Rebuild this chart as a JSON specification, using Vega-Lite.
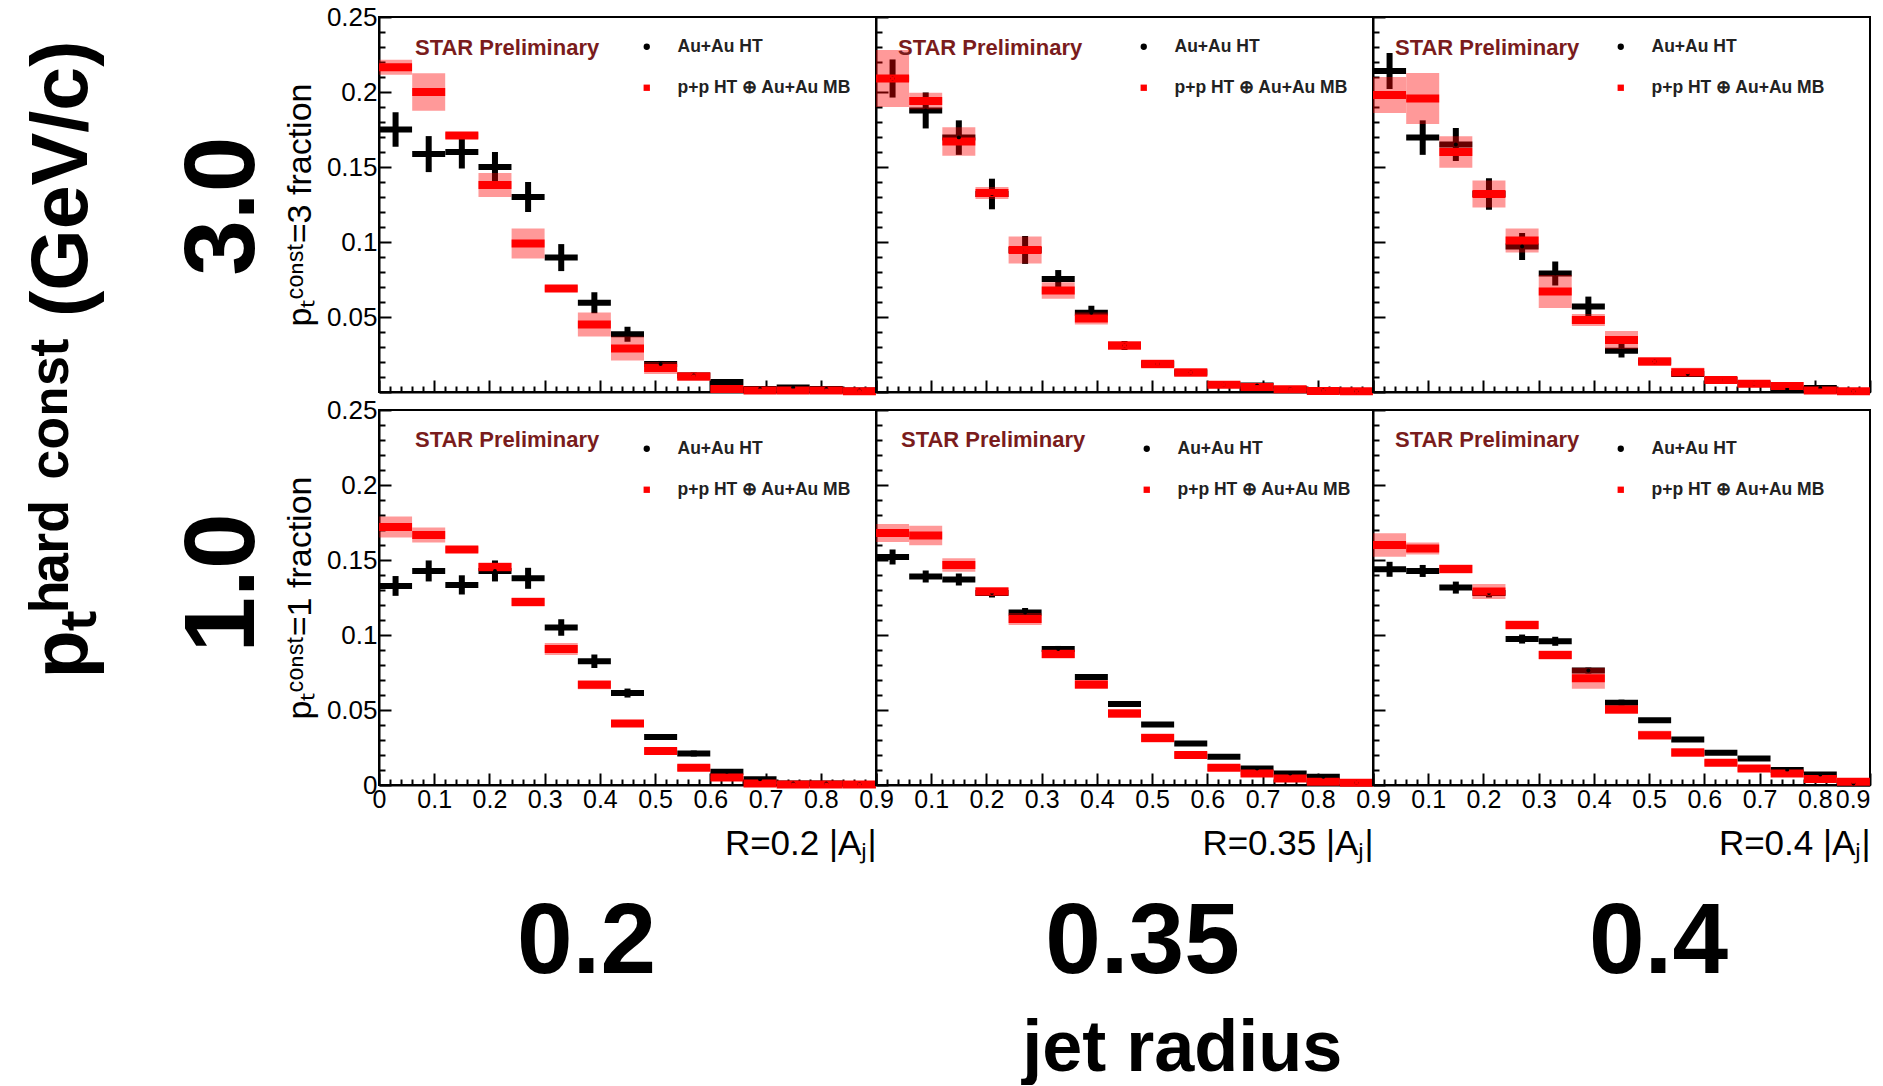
{
 "$schema": "https://vega.github.io/schema/vega-lite/v6.json",
 "background": "white",
 "padding": {"left": 24, "top": 3, "right": 5, "bottom": 0},
 "datasets": {
  "d": [
   {"pt":3,"R":0.2,"s":"A","x":0.03,"v":0.175,"e":0.0115},{"pt":3,"R":0.2,"s":"A","x":0.09,"v":0.1586,"e":0.012},{"pt":3,"R":0.2,"s":"A","x":0.15,"v":0.16,"e":0.011},{"pt":3,"R":0.2,"s":"A","x":0.21,"v":0.15,"e":0.01},{"pt":3,"R":0.2,"s":"A","x":0.27,"v":0.13,"e":0.01},{"pt":3,"R":0.2,"s":"A","x":0.33,"v":0.0896,"e":0.009},{"pt":3,"R":0.2,"s":"A","x":0.39,"v":0.0595,"e":0.007},{"pt":3,"R":0.2,"s":"A","x":0.45,"v":0.0385,"e":0.005},{"pt":3,"R":0.2,"s":"A","x":0.51,"v":0.0187,"e":0.002},{"pt":3,"R":0.2,"s":"A","x":0.57,"v":0.011,"e":0.002},{"pt":3,"R":0.2,"s":"A","x":0.63,"v":0.0066,"e":0.0015},{"pt":3,"R":0.2,"s":"A","x":0.69,"v":0.002,"e":0.001},{"pt":3,"R":0.2,"s":"A","x":0.75,"v":0.003,"e":0.001},{"pt":3,"R":0.2,"s":"A","x":0.81,"v":0.002,"e":0.001},{"pt":3,"R":0.2,"s":"A","x":0.87,"v":0.001,"e":0.001},
   {"pt":3,"R":0.2,"s":"P","x":0.03,"v":0.2165,"e":0.005},{"pt":3,"R":0.2,"s":"P","x":0.09,"v":0.2,"e":0.0125},{"pt":3,"R":0.2,"s":"P","x":0.15,"v":0.171,"e":0.002},{"pt":3,"R":0.2,"s":"P","x":0.21,"v":0.138,"e":0.008},{"pt":3,"R":0.2,"s":"P","x":0.27,"v":0.099,"e":0.01},{"pt":3,"R":0.2,"s":"P","x":0.33,"v":0.069,"e":0.002},{"pt":3,"R":0.2,"s":"P","x":0.39,"v":0.045,"e":0.008},{"pt":3,"R":0.2,"s":"P","x":0.45,"v":0.029,"e":0.008},{"pt":3,"R":0.2,"s":"P","x":0.51,"v":0.016,"e":0.004},{"pt":3,"R":0.2,"s":"P","x":0.57,"v":0.0104,"e":0.003},{"pt":3,"R":0.2,"s":"P","x":0.63,"v":0.002,"e":0.002},{"pt":3,"R":0.2,"s":"P","x":0.69,"v":0.001,"e":0.001},{"pt":3,"R":0.2,"s":"P","x":0.75,"v":0.001,"e":0.001},{"pt":3,"R":0.2,"s":"P","x":0.81,"v":0.001,"e":0.001},{"pt":3,"R":0.2,"s":"P","x":0.87,"v":0.0005,"e":0.0005},
   {"pt":3,"R":0.35,"s":"A","x":0.03,"v":0.209,"e":0.0127},{"pt":3,"R":0.35,"s":"A","x":0.09,"v":0.1877,"e":0.012},{"pt":3,"R":0.35,"s":"A","x":0.15,"v":0.1696,"e":0.0115},{"pt":3,"R":0.35,"s":"A","x":0.21,"v":0.132,"e":0.0102},{"pt":3,"R":0.35,"s":"A","x":0.27,"v":0.0947,"e":0.0093},{"pt":3,"R":0.35,"s":"A","x":0.33,"v":0.0753,"e":0.006},{"pt":3,"R":0.35,"s":"A","x":0.39,"v":0.0529,"e":0.0046},{"pt":3,"R":0.35,"s":"A","x":0.45,"v":0.031,"e":0.003},{"pt":3,"R":0.35,"s":"A","x":0.51,"v":0.0187,"e":0.002},{"pt":3,"R":0.35,"s":"A","x":0.57,"v":0.013,"e":0.002},{"pt":3,"R":0.35,"s":"A","x":0.63,"v":0.0048,"e":0.001},{"pt":3,"R":0.35,"s":"A","x":0.69,"v":0.0044,"e":0.001},{"pt":3,"R":0.35,"s":"A","x":0.75,"v":0.002,"e":0.001},{"pt":3,"R":0.35,"s":"A","x":0.81,"v":0.001,"e":0.001},{"pt":3,"R":0.35,"s":"A","x":0.87,"v":0.0005,"e":0.0005},
   {"pt":3,"R":0.35,"s":"P","x":0.03,"v":0.209,"e":0.019},{"pt":3,"R":0.35,"s":"P","x":0.09,"v":0.194,"e":0.0055},{"pt":3,"R":0.35,"s":"P","x":0.15,"v":0.167,"e":0.0095},{"pt":3,"R":0.35,"s":"P","x":0.21,"v":0.1326,"e":0.004},{"pt":3,"R":0.35,"s":"P","x":0.27,"v":0.0947,"e":0.009},{"pt":3,"R":0.35,"s":"P","x":0.33,"v":0.0676,"e":0.0055},{"pt":3,"R":0.35,"s":"P","x":0.39,"v":0.049,"e":0.004},{"pt":3,"R":0.35,"s":"P","x":0.45,"v":0.031,"e":0.003},{"pt":3,"R":0.35,"s":"P","x":0.51,"v":0.0187,"e":0.003},{"pt":3,"R":0.35,"s":"P","x":0.57,"v":0.013,"e":0.003},{"pt":3,"R":0.35,"s":"P","x":0.63,"v":0.0048,"e":0.001},{"pt":3,"R":0.35,"s":"P","x":0.69,"v":0.0033,"e":0.001},{"pt":3,"R":0.35,"s":"P","x":0.75,"v":0.0018,"e":0.001},{"pt":3,"R":0.35,"s":"P","x":0.81,"v":0.0007,"e":0.0005},{"pt":3,"R":0.35,"s":"P","x":0.87,"v":0.0005,"e":0.0005},
   {"pt":3,"R":0.4,"s":"A","x":0.03,"v":0.214,"e":0.012},{"pt":3,"R":0.4,"s":"A","x":0.09,"v":0.1696,"e":0.0115},{"pt":3,"R":0.4,"s":"A","x":0.15,"v":0.165,"e":0.011},{"pt":3,"R":0.4,"s":"A","x":0.21,"v":0.132,"e":0.0105},{"pt":3,"R":0.4,"s":"A","x":0.27,"v":0.097,"e":0.009},{"pt":3,"R":0.4,"s":"A","x":0.33,"v":0.079,"e":0.008},{"pt":3,"R":0.4,"s":"A","x":0.39,"v":0.057,"e":0.0066},{"pt":3,"R":0.4,"s":"A","x":0.45,"v":0.0275,"e":0.0045},{"pt":3,"R":0.4,"s":"A","x":0.51,"v":0.0203,"e":0.002},{"pt":3,"R":0.4,"s":"A","x":0.57,"v":0.012,"e":0.002},{"pt":3,"R":0.4,"s":"A","x":0.63,"v":0.008,"e":0.001},{"pt":3,"R":0.4,"s":"A","x":0.69,"v":0.0055,"e":0.001},{"pt":3,"R":0.4,"s":"A","x":0.75,"v":0.002,"e":0.001},{"pt":3,"R":0.4,"s":"A","x":0.81,"v":0.0026,"e":0.001},{"pt":3,"R":0.4,"s":"A","x":0.87,"v":0.0005,"e":0.0005},
   {"pt":3,"R":0.4,"s":"P","x":0.03,"v":0.198,"e":0.012},{"pt":3,"R":0.4,"s":"P","x":0.09,"v":0.1956,"e":0.017},{"pt":3,"R":0.4,"s":"P","x":0.15,"v":0.16,"e":0.0105},{"pt":3,"R":0.4,"s":"P","x":0.21,"v":0.132,"e":0.009},{"pt":3,"R":0.4,"s":"P","x":0.27,"v":0.101,"e":0.008},{"pt":3,"R":0.4,"s":"P","x":0.33,"v":0.067,"e":0.011},{"pt":3,"R":0.4,"s":"P","x":0.39,"v":0.048,"e":0.004},{"pt":3,"R":0.4,"s":"P","x":0.45,"v":0.0346,"e":0.006},{"pt":3,"R":0.4,"s":"P","x":0.51,"v":0.0203,"e":0.003},{"pt":3,"R":0.4,"s":"P","x":0.57,"v":0.0132,"e":0.003},{"pt":3,"R":0.4,"s":"P","x":0.63,"v":0.008,"e":0.002},{"pt":3,"R":0.4,"s":"P","x":0.69,"v":0.0055,"e":0.001},{"pt":3,"R":0.4,"s":"P","x":0.75,"v":0.004,"e":0.001},{"pt":3,"R":0.4,"s":"P","x":0.81,"v":0.001,"e":0.001},{"pt":3,"R":0.4,"s":"P","x":0.87,"v":0.0005,"e":0.0005},
   {"pt":1,"R":0.2,"s":"A","x":0.03,"v":0.1327,"e":0.0066},{"pt":1,"R":0.2,"s":"A","x":0.09,"v":0.1427,"e":0.007},{"pt":1,"R":0.2,"s":"A","x":0.15,"v":0.1334,"e":0.0064},{"pt":1,"R":0.2,"s":"A","x":0.21,"v":0.1427,"e":0.007},{"pt":1,"R":0.2,"s":"A","x":0.27,"v":0.1378,"e":0.007},{"pt":1,"R":0.2,"s":"A","x":0.33,"v":0.105,"e":0.0055},{"pt":1,"R":0.2,"s":"A","x":0.39,"v":0.0825,"e":0.0045},{"pt":1,"R":0.2,"s":"A","x":0.45,"v":0.0613,"e":0.003},{"pt":1,"R":0.2,"s":"A","x":0.51,"v":0.032,"e":0.002},{"pt":1,"R":0.2,"s":"A","x":0.57,"v":0.021,"e":0.002},{"pt":1,"R":0.2,"s":"A","x":0.63,"v":0.0088,"e":0.0015},{"pt":1,"R":0.2,"s":"A","x":0.69,"v":0.0038,"e":0.001},{"pt":1,"R":0.2,"s":"A","x":0.75,"v":0.001,"e":0.0005},{"pt":1,"R":0.2,"s":"A","x":0.81,"v":0.001,"e":0.0005},{"pt":1,"R":0.2,"s":"A","x":0.87,"v":0.0005,"e":0.0005},
   {"pt":1,"R":0.2,"s":"P","x":0.03,"v":0.172,"e":0.007},{"pt":1,"R":0.2,"s":"P","x":0.09,"v":0.1666,"e":0.005},{"pt":1,"R":0.2,"s":"P","x":0.15,"v":0.157,"e":0.002},{"pt":1,"R":0.2,"s":"P","x":0.21,"v":0.1454,"e":0.003},{"pt":1,"R":0.2,"s":"P","x":0.27,"v":0.122,"e":0.003},{"pt":1,"R":0.2,"s":"P","x":0.33,"v":0.0907,"e":0.004},{"pt":1,"R":0.2,"s":"P","x":0.39,"v":0.0668,"e":0.003},{"pt":1,"R":0.2,"s":"P","x":0.45,"v":0.041,"e":0.002},{"pt":1,"R":0.2,"s":"P","x":0.51,"v":0.0226,"e":0.002},{"pt":1,"R":0.2,"s":"P","x":0.57,"v":0.0115,"e":0.002},{"pt":1,"R":0.2,"s":"P","x":0.63,"v":0.005,"e":0.001},{"pt":1,"R":0.2,"s":"P","x":0.69,"v":0.001,"e":0.0005},{"pt":1,"R":0.2,"s":"P","x":0.75,"v":0.0003,"e":0.0003},{"pt":1,"R":0.2,"s":"P","x":0.81,"v":0.0003,"e":0.0003},{"pt":1,"R":0.2,"s":"P","x":0.87,"v":0.0003,"e":0.0003},
   {"pt":1,"R":0.35,"s":"A","x":0.03,"v":0.152,"e":0.005},{"pt":1,"R":0.35,"s":"A","x":0.09,"v":0.139,"e":0.004},{"pt":1,"R":0.35,"s":"A","x":0.15,"v":0.137,"e":0.004},{"pt":1,"R":0.35,"s":"A","x":0.21,"v":0.128,"e":0.003},{"pt":1,"R":0.35,"s":"A","x":0.27,"v":0.115,"e":0.003},{"pt":1,"R":0.35,"s":"A","x":0.33,"v":0.0907,"e":0.002},{"pt":1,"R":0.35,"s":"A","x":0.39,"v":0.072,"e":0.002},{"pt":1,"R":0.35,"s":"A","x":0.45,"v":0.054,"e":0.002},{"pt":1,"R":0.35,"s":"A","x":0.51,"v":0.0403,"e":0.0015},{"pt":1,"R":0.35,"s":"A","x":0.57,"v":0.0277,"e":0.0015},{"pt":1,"R":0.35,"s":"A","x":0.63,"v":0.0188,"e":0.001},{"pt":1,"R":0.35,"s":"A","x":0.69,"v":0.011,"e":0.001},{"pt":1,"R":0.35,"s":"A","x":0.75,"v":0.0077,"e":0.001},{"pt":1,"R":0.35,"s":"A","x":0.81,"v":0.0055,"e":0.001},{"pt":1,"R":0.35,"s":"A","x":0.87,"v":0.0015,"e":0.0005},
   {"pt":1,"R":0.35,"s":"P","x":0.03,"v":0.168,"e":0.006},{"pt":1,"R":0.35,"s":"P","x":0.09,"v":0.1664,"e":0.0065},{"pt":1,"R":0.35,"s":"P","x":0.15,"v":0.1467,"e":0.0045},{"pt":1,"R":0.35,"s":"P","x":0.21,"v":0.129,"e":0.003},{"pt":1,"R":0.35,"s":"P","x":0.27,"v":0.1106,"e":0.004},{"pt":1,"R":0.35,"s":"P","x":0.33,"v":0.0874,"e":0.003},{"pt":1,"R":0.35,"s":"P","x":0.39,"v":0.067,"e":0.003},{"pt":1,"R":0.35,"s":"P","x":0.45,"v":0.0476,"e":0.003},{"pt":1,"R":0.35,"s":"P","x":0.51,"v":0.0314,"e":0.003},{"pt":1,"R":0.35,"s":"P","x":0.57,"v":0.02,"e":0.002},{"pt":1,"R":0.35,"s":"P","x":0.63,"v":0.0115,"e":0.002},{"pt":1,"R":0.35,"s":"P","x":0.69,"v":0.0077,"e":0.001},{"pt":1,"R":0.35,"s":"P","x":0.75,"v":0.0044,"e":0.001},{"pt":1,"R":0.35,"s":"P","x":0.81,"v":0.0022,"e":0.001},{"pt":1,"R":0.35,"s":"P","x":0.87,"v":0.0015,"e":0.001},
   {"pt":1,"R":0.4,"s":"A","x":0.03,"v":0.1438,"e":0.005},{"pt":1,"R":0.4,"s":"A","x":0.09,"v":0.1427,"e":0.004},{"pt":1,"R":0.4,"s":"A","x":0.15,"v":0.1316,"e":0.004},{"pt":1,"R":0.4,"s":"A","x":0.21,"v":0.128,"e":0.003},{"pt":1,"R":0.4,"s":"A","x":0.27,"v":0.0973,"e":0.003},{"pt":1,"R":0.4,"s":"A","x":0.33,"v":0.0958,"e":0.003},{"pt":1,"R":0.4,"s":"A","x":0.39,"v":0.0763,"e":0.002},{"pt":1,"R":0.4,"s":"A","x":0.45,"v":0.0549,"e":0.002},{"pt":1,"R":0.4,"s":"A","x":0.51,"v":0.0431,"e":0.0015},{"pt":1,"R":0.4,"s":"A","x":0.57,"v":0.0303,"e":0.0015},{"pt":1,"R":0.4,"s":"A","x":0.63,"v":0.0215,"e":0.001},{"pt":1,"R":0.4,"s":"A","x":0.69,"v":0.0177,"e":0.001},{"pt":1,"R":0.4,"s":"A","x":0.75,"v":0.01,"e":0.001},{"pt":1,"R":0.4,"s":"A","x":0.81,"v":0.007,"e":0.001},{"pt":1,"R":0.4,"s":"A","x":0.87,"v":0.001,"e":0.0005},
   {"pt":1,"R":0.4,"s":"P","x":0.03,"v":0.16,"e":0.0078},{"pt":1,"R":0.4,"s":"P","x":0.09,"v":0.1577,"e":0.004},{"pt":1,"R":0.4,"s":"P","x":0.15,"v":0.144,"e":0.003},{"pt":1,"R":0.4,"s":"P","x":0.21,"v":0.129,"e":0.005},{"pt":1,"R":0.4,"s":"P","x":0.27,"v":0.1066,"e":0.003},{"pt":1,"R":0.4,"s":"P","x":0.33,"v":0.0867,"e":0.003},{"pt":1,"R":0.4,"s":"P","x":0.39,"v":0.0712,"e":0.007},{"pt":1,"R":0.4,"s":"P","x":0.45,"v":0.0504,"e":0.003},{"pt":1,"R":0.4,"s":"P","x":0.51,"v":0.0332,"e":0.003},{"pt":1,"R":0.4,"s":"P","x":0.57,"v":0.0217,"e":0.003},{"pt":1,"R":0.4,"s":"P","x":0.63,"v":0.0148,"e":0.002},{"pt":1,"R":0.4,"s":"P","x":0.69,"v":0.011,"e":0.002},{"pt":1,"R":0.4,"s":"P","x":0.75,"v":0.0077,"e":0.001},{"pt":1,"R":0.4,"s":"P","x":0.81,"v":0.004,"e":0.001},{"pt":1,"R":0.4,"s":"P","x":0.87,"v":0.0022,"e":0.001}
  ]
 },
 "data": {"name": "d"},
 "title": {"text": "jet radius", "orient": "bottom", "fontSize": 72, "fontWeight": "bold", "font": "Liberation Sans", "color": "black", "anchor": "middle", "offset": 20, "dx": 234},
 "spacing": 0,
 "resolve": {"legend": {"color": "independent", "shape": "independent"}},
 "vconcat": [
  {
   "title": {"text": "pₜʰᵃʳᵈ ᶜᵒⁿˢᵗ (GeV/c)", "orient": "left", "fontSize": 79, "fontWeight": "bold", "font": "Liberation Sans", "color": "black", "anchor": "middle", "offset": 70, "dx": 139},
   "spacing": -30,
   "resolve": {"legend": {"color": "independent", "shape": "independent"}},
   "vconcat": [
    {
     "title": {"text": "3.0", "orient": "left", "fontSize": 100, "fontWeight": "bold", "font": "Liberation Sans", "color": "black", "anchor": "middle", "offset": 7},
     "spacing": 0,
     "bounds": "flush",
     "resolve": {"legend": {"color": "independent", "shape": "independent"}},
     "hconcat": [
      {
       "width": 497, "height": 375,
       "transform": [{"filter": "datum.pt === 3 && datum.R === 0.2"}],
       "encoding": {
        "x": {"field": "x", "type": "quantitative", "scale": {"domain": [0, 0.9], "nice": false, "zero": false}, "axis": {"values": [0,0.02,0.04,0.06,0.08,0.1,0.12,0.14,0.16,0.18,0.2,0.22,0.24,0.26,0.28,0.3,0.32,0.34,0.36,0.38,0.4,0.42,0.44,0.46,0.48,0.5,0.52,0.54,0.56,0.58,0.6,0.62,0.64,0.66,0.68,0.7,0.72,0.74,0.76,0.78,0.8,0.82,0.84,0.86,0.88,0.9], "tickSize": {"condition": {"test": "abs(datum.value*10-round(datum.value*10))<0.001", "value": -12}, "value": -6}, "labels": false, "title": null}},
        "y": {"field": "v", "type": "quantitative", "scale": {"domain": [0, 0.25], "nice": false, "zero": false}, "axis": {"values": [0,0.01,0.02,0.03,0.04,0.05,0.06,0.07,0.08,0.09,0.1,0.11,0.12,0.13,0.14,0.15,0.16,0.17,0.18,0.19,0.2,0.21,0.22,0.23,0.24,0.25], "tickSize": {"condition": {"test": "abs(datum.value*20-round(datum.value*20))<0.001", "value": -12}, "value": -6}, "labelExpr": "datum.value > 0.001 && abs(datum.value*20-round(datum.value*20))<0.001 ? format(datum.value, '.2~f') : ''", "labelFontSize": 26, "labelPadding": 14, "title": "pₜᶜᵒⁿˢᵗ=3  fraction", "titleFontSize": 34, "titlePadding": 9}}
       },
       "layer": [
        {"transform": [{"filter": "datum.s === 'A'"}], "mark": {"type": "errorbar", "thickness": 6, "color": "black"}, "encoding": {"yError": {"field": "e"}}},
        {"transform": [{"filter": "datum.s === 'A'"}], "mark": {"type": "tick", "orient": "horizontal", "size": 33, "thickness": 6, "color": "black", "opacity": 1}},
        {"transform": [{"filter": "datum.s === 'P'"}], "mark": {"type": "errorbar", "thickness": 33, "color": "#ff0000", "opacity": 0.4}, "encoding": {"yError": {"field": "e"}}},
        {"transform": [{"filter": "datum.s === 'P'"}], "mark": {"type": "tick", "orient": "horizontal", "size": 33, "thickness": 8, "color": "#ff0000", "opacity": 1}},
        {"mark": {"type": "point", "filled": true, "size": 16, "opacity": 1}, "encoding": {
          "color": {"field": "s", "type": "nominal", "scale": {"domain": ["A","P"], "range": ["black","#ff0000"]}, "legend": {"orient": "none", "legendX": 36, "legendY": 21, "title": "STAR Preliminary", "titleOrient": "left", "titlePadding": 38, "titleLimit": 500, "titleFontSize": 22, "labelFontSize": 17.5, "labelLimit": 500, "labelExpr": "datum.value === 'A' ? 'Au+Au HT' : 'p+p HT ⊕ Au+Au MB'"}},
          "shape": {"field": "s", "type": "nominal", "scale": {"domain": ["A","P"], "range": ["circle","square"]}, "legend": {"orient": "none", "legendX": 36, "legendY": 21, "title": "STAR Preliminary", "titleOrient": "left", "titlePadding": 38, "titleLimit": 500, "titleFontSize": 22, "labelFontSize": 17.5, "labelLimit": 500, "labelExpr": "datum.value === 'A' ? 'Au+Au HT' : 'p+p HT ⊕ Au+Au MB'"}}}}
       ]
      },
      {
       "width": 497, "height": 375,
       "transform": [{"filter": "datum.pt === 3 && datum.R === 0.35"}],
       "encoding": {
        "x": {"field": "x", "type": "quantitative", "scale": {"domain": [0, 0.9], "nice": false, "zero": false}, "axis": {"values": [0,0.02,0.04,0.06,0.08,0.1,0.12,0.14,0.16,0.18,0.2,0.22,0.24,0.26,0.28,0.3,0.32,0.34,0.36,0.38,0.4,0.42,0.44,0.46,0.48,0.5,0.52,0.54,0.56,0.58,0.6,0.62,0.64,0.66,0.68,0.7,0.72,0.74,0.76,0.78,0.8,0.82,0.84,0.86,0.88,0.9], "tickSize": {"condition": {"test": "abs(datum.value*10-round(datum.value*10))<0.001", "value": -12}, "value": -6}, "labels": false, "title": null}},
        "y": {"field": "v", "type": "quantitative", "scale": {"domain": [0, 0.25], "nice": false, "zero": false}, "axis": {"values": [0,0.01,0.02,0.03,0.04,0.05,0.06,0.07,0.08,0.09,0.1,0.11,0.12,0.13,0.14,0.15,0.16,0.17,0.18,0.19,0.2,0.21,0.22,0.23,0.24,0.25], "tickSize": {"condition": {"test": "abs(datum.value*20-round(datum.value*20))<0.001", "value": -12}, "value": -6}, "labels": false, "title": null}}
       },
       "layer": [
        {"transform": [{"filter": "datum.s === 'A'"}], "mark": {"type": "errorbar", "thickness": 6, "color": "black"}, "encoding": {"yError": {"field": "e"}}},
        {"transform": [{"filter": "datum.s === 'A'"}], "mark": {"type": "tick", "orient": "horizontal", "size": 33, "thickness": 6, "color": "black", "opacity": 1}},
        {"transform": [{"filter": "datum.s === 'P'"}], "mark": {"type": "errorbar", "thickness": 33, "color": "#ff0000", "opacity": 0.4}, "encoding": {"yError": {"field": "e"}}},
        {"transform": [{"filter": "datum.s === 'P'"}], "mark": {"type": "tick", "orient": "horizontal", "size": 33, "thickness": 8, "color": "#ff0000", "opacity": 1}},
        {"mark": {"type": "point", "filled": true, "size": 16, "opacity": 1}, "encoding": {
          "color": {"field": "s", "type": "nominal", "scale": {"domain": ["A","P"], "range": ["black","#ff0000"]}, "legend": {"orient": "none", "legendX": 22, "legendY": 21, "title": "STAR Preliminary", "titleOrient": "left", "titlePadding": 52, "titleLimit": 500, "titleFontSize": 22, "labelFontSize": 17.5, "labelLimit": 500, "labelExpr": "datum.value === 'A' ? 'Au+Au HT' : 'p+p HT ⊕ Au+Au MB'"}},
          "shape": {"field": "s", "type": "nominal", "scale": {"domain": ["A","P"], "range": ["circle","square"]}, "legend": {"orient": "none", "legendX": 22, "legendY": 21, "title": "STAR Preliminary", "titleOrient": "left", "titlePadding": 52, "titleLimit": 500, "titleFontSize": 22, "labelFontSize": 17.5, "labelLimit": 500, "labelExpr": "datum.value === 'A' ? 'Au+Au HT' : 'p+p HT ⊕ Au+Au MB'"}}}}
       ]
      },
      {
       "width": 497, "height": 375,
       "transform": [{"filter": "datum.pt === 3 && datum.R === 0.4"}],
       "encoding": {
        "x": {"field": "x", "type": "quantitative", "scale": {"domain": [0, 0.9], "nice": false, "zero": false}, "axis": {"values": [0,0.02,0.04,0.06,0.08,0.1,0.12,0.14,0.16,0.18,0.2,0.22,0.24,0.26,0.28,0.3,0.32,0.34,0.36,0.38,0.4,0.42,0.44,0.46,0.48,0.5,0.52,0.54,0.56,0.58,0.6,0.62,0.64,0.66,0.68,0.7,0.72,0.74,0.76,0.78,0.8,0.82,0.84,0.86,0.88,0.9], "tickSize": {"condition": {"test": "abs(datum.value*10-round(datum.value*10))<0.001", "value": -12}, "value": -6}, "labels": false, "title": null}},
        "y": {"field": "v", "type": "quantitative", "scale": {"domain": [0, 0.25], "nice": false, "zero": false}, "axis": {"values": [0,0.01,0.02,0.03,0.04,0.05,0.06,0.07,0.08,0.09,0.1,0.11,0.12,0.13,0.14,0.15,0.16,0.17,0.18,0.19,0.2,0.21,0.22,0.23,0.24,0.25], "tickSize": {"condition": {"test": "abs(datum.value*20-round(datum.value*20))<0.001", "value": -12}, "value": -6}, "labels": false, "title": null}}
       },
       "layer": [
        {"transform": [{"filter": "datum.s === 'A'"}], "mark": {"type": "errorbar", "thickness": 6, "color": "black"}, "encoding": {"yError": {"field": "e"}}},
        {"transform": [{"filter": "datum.s === 'A'"}], "mark": {"type": "tick", "orient": "horizontal", "size": 33, "thickness": 6, "color": "black", "opacity": 1}},
        {"transform": [{"filter": "datum.s === 'P'"}], "mark": {"type": "errorbar", "thickness": 33, "color": "#ff0000", "opacity": 0.4}, "encoding": {"yError": {"field": "e"}}},
        {"transform": [{"filter": "datum.s === 'P'"}], "mark": {"type": "tick", "orient": "horizontal", "size": 33, "thickness": 8, "color": "#ff0000", "opacity": 1}},
        {"mark": {"type": "point", "filled": true, "size": 16, "opacity": 1}, "encoding": {
          "color": {"field": "s", "type": "nominal", "scale": {"domain": ["A","P"], "range": ["black","#ff0000"]}, "legend": {"orient": "none", "legendX": 22, "legendY": 21, "title": "STAR Preliminary", "titleOrient": "left", "titlePadding": 32, "titleLimit": 500, "titleFontSize": 22, "labelFontSize": 17.5, "labelLimit": 500, "labelExpr": "datum.value === 'A' ? 'Au+Au HT' : 'p+p HT ⊕ Au+Au MB'"}},
          "shape": {"field": "s", "type": "nominal", "scale": {"domain": ["A","P"], "range": ["circle","square"]}, "legend": {"orient": "none", "legendX": 22, "legendY": 21, "title": "STAR Preliminary", "titleOrient": "left", "titlePadding": 32, "titleLimit": 500, "titleFontSize": 22, "labelFontSize": 17.5, "labelLimit": 500, "labelExpr": "datum.value === 'A' ? 'Au+Au HT' : 'p+p HT ⊕ Au+Au MB'"}}}}
       ]
      }
     ]
    },
    {
     "title": {"text": "1.0", "orient": "left", "fontSize": 100, "fontWeight": "bold", "font": "Liberation Sans", "color": "black", "anchor": "middle", "offset": 7, "dx": 112},
     "spacing": 0,
     "bounds": "flush",
     "resolve": {"legend": {"color": "independent", "shape": "independent"}},
     "hconcat": [
      {
       "width": 497, "height": 375,
       "title": {"text": "0.2", "orient": "bottom", "fontSize": 100, "fontWeight": "bold", "font": "Liberation Sans", "color": "black", "anchor": "middle", "offset": 33, "dx": -41},
       "transform": [{"filter": "datum.pt === 1 && datum.R === 0.2"}],
       "encoding": {
        "x": {"field": "x", "type": "quantitative", "scale": {"domain": [0, 0.9], "nice": false, "zero": false}, "axis": {"values": [0,0.02,0.04,0.06,0.08,0.1,0.12,0.14,0.16,0.18,0.2,0.22,0.24,0.26,0.28,0.3,0.32,0.34,0.36,0.38,0.4,0.42,0.44,0.46,0.48,0.5,0.52,0.54,0.56,0.58,0.6,0.62,0.64,0.66,0.68,0.7,0.72,0.74,0.76,0.78,0.8,0.82,0.84,0.86,0.88,0.9], "tickSize": {"condition": {"test": "abs(datum.value*10-round(datum.value*10))<0.001", "value": -12}, "value": -6}, "labelExpr": "abs(datum.value*10-round(datum.value*10))<0.001 ? format(datum.value, '.1~f') : ''", "labelFontSize": 25, "labelPadding": 14, "title": "R=0.2   |Aⱼ|", "titleAnchor": "end", "titleFontSize": 35, "titlePadding": 8}},
        "y": {"field": "v", "type": "quantitative", "scale": {"domain": [0, 0.25], "nice": false, "zero": false}, "axis": {"values": [0,0.01,0.02,0.03,0.04,0.05,0.06,0.07,0.08,0.09,0.1,0.11,0.12,0.13,0.14,0.15,0.16,0.17,0.18,0.19,0.2,0.21,0.22,0.23,0.24,0.25], "tickSize": {"condition": {"test": "abs(datum.value*20-round(datum.value*20))<0.001", "value": -12}, "value": -6}, "labelExpr": "abs(datum.value*20-round(datum.value*20))<0.001 ? format(datum.value, '.2~f') : ''", "labelFontSize": 26, "labelPadding": 14, "title": "pₜᶜᵒⁿˢᵗ=1  fraction", "titleFontSize": 34, "titlePadding": 9}}
       },
       "layer": [
        {"transform": [{"filter": "datum.s === 'A'"}], "mark": {"type": "errorbar", "thickness": 6, "color": "black"}, "encoding": {"yError": {"field": "e"}}},
        {"transform": [{"filter": "datum.s === 'A'"}], "mark": {"type": "tick", "orient": "horizontal", "size": 33, "thickness": 6, "color": "black", "opacity": 1}},
        {"transform": [{"filter": "datum.s === 'P'"}], "mark": {"type": "errorbar", "thickness": 33, "color": "#ff0000", "opacity": 0.4}, "encoding": {"yError": {"field": "e"}}},
        {"transform": [{"filter": "datum.s === 'P'"}], "mark": {"type": "tick", "orient": "horizontal", "size": 33, "thickness": 8, "color": "#ff0000", "opacity": 1}},
        {"mark": {"type": "point", "filled": true, "size": 16, "opacity": 1}, "encoding": {
          "color": {"field": "s", "type": "nominal", "scale": {"domain": ["A","P"], "range": ["black","#ff0000"]}, "legend": {"orient": "none", "legendX": 36, "legendY": 30, "title": "STAR Preliminary", "titleOrient": "left", "titleBaseline": "middle", "titlePadding": 38, "titleLimit": 500, "titleFontSize": 22, "labelFontSize": 17.5, "labelLimit": 500, "labelExpr": "datum.value === 'A' ? 'Au+Au HT' : 'p+p HT ⊕ Au+Au MB'"}},
          "shape": {"field": "s", "type": "nominal", "scale": {"domain": ["A","P"], "range": ["circle","square"]}, "legend": {"orient": "none", "legendX": 36, "legendY": 30, "title": "STAR Preliminary", "titleOrient": "left", "titleBaseline": "middle", "titlePadding": 38, "titleLimit": 500, "titleFontSize": 22, "labelFontSize": 17.5, "labelLimit": 500, "labelExpr": "datum.value === 'A' ? 'Au+Au HT' : 'p+p HT ⊕ Au+Au MB'"}}}}
       ]
      },
      {
       "width": 497, "height": 375,
       "title": {"text": "0.35", "orient": "bottom", "fontSize": 100, "fontWeight": "bold", "font": "Liberation Sans", "color": "black", "anchor": "middle", "offset": 33, "dx": 18},
       "transform": [{"filter": "datum.pt === 1 && datum.R === 0.35"}],
       "encoding": {
        "x": {"field": "x", "type": "quantitative", "scale": {"domain": [0, 0.9], "nice": false, "zero": false}, "axis": {"values": [0,0.02,0.04,0.06,0.08,0.1,0.12,0.14,0.16,0.18,0.2,0.22,0.24,0.26,0.28,0.3,0.32,0.34,0.36,0.38,0.4,0.42,0.44,0.46,0.48,0.5,0.52,0.54,0.56,0.58,0.6,0.62,0.64,0.66,0.68,0.7,0.72,0.74,0.76,0.78,0.8,0.82,0.84,0.86,0.88,0.9], "tickSize": {"condition": {"test": "abs(datum.value*10-round(datum.value*10))<0.001", "value": -12}, "value": -6}, "labelExpr": "datum.value > 0.05 && abs(datum.value*10-round(datum.value*10))<0.001 ? format(datum.value, '.1~f') : ''", "labelFontSize": 25, "labelPadding": 14, "title": "R=0.35   |Aⱼ|", "titleAnchor": "end", "titleFontSize": 35, "titlePadding": 8}},
        "y": {"field": "v", "type": "quantitative", "scale": {"domain": [0, 0.25], "nice": false, "zero": false}, "axis": {"values": [0,0.01,0.02,0.03,0.04,0.05,0.06,0.07,0.08,0.09,0.1,0.11,0.12,0.13,0.14,0.15,0.16,0.17,0.18,0.19,0.2,0.21,0.22,0.23,0.24,0.25], "tickSize": {"condition": {"test": "abs(datum.value*20-round(datum.value*20))<0.001", "value": -12}, "value": -6}, "labels": false, "title": null}}
       },
       "layer": [
        {"transform": [{"filter": "datum.s === 'A'"}], "mark": {"type": "errorbar", "thickness": 6, "color": "black"}, "encoding": {"yError": {"field": "e"}}},
        {"transform": [{"filter": "datum.s === 'A'"}], "mark": {"type": "tick", "orient": "horizontal", "size": 33, "thickness": 6, "color": "black", "opacity": 1}},
        {"transform": [{"filter": "datum.s === 'P'"}], "mark": {"type": "errorbar", "thickness": 33, "color": "#ff0000", "opacity": 0.4}, "encoding": {"yError": {"field": "e"}}},
        {"transform": [{"filter": "datum.s === 'P'"}], "mark": {"type": "tick", "orient": "horizontal", "size": 33, "thickness": 8, "color": "#ff0000", "opacity": 1}},
        {"mark": {"type": "point", "filled": true, "size": 16, "opacity": 1}, "encoding": {
          "color": {"field": "s", "type": "nominal", "scale": {"domain": ["A","P"], "range": ["black","#ff0000"]}, "legend": {"orient": "none", "legendX": 25, "legendY": 30, "title": "STAR Preliminary", "titleOrient": "left", "titleBaseline": "middle", "titlePadding": 52, "titleLimit": 500, "titleFontSize": 22, "labelFontSize": 17.5, "labelLimit": 500, "labelExpr": "datum.value === 'A' ? 'Au+Au HT' : 'p+p HT ⊕ Au+Au MB'"}},
          "shape": {"field": "s", "type": "nominal", "scale": {"domain": ["A","P"], "range": ["circle","square"]}, "legend": {"orient": "none", "legendX": 25, "legendY": 30, "title": "STAR Preliminary", "titleOrient": "left", "titleBaseline": "middle", "titlePadding": 52, "titleLimit": 500, "titleFontSize": 22, "labelFontSize": 17.5, "labelLimit": 500, "labelExpr": "datum.value === 'A' ? 'Au+Au HT' : 'p+p HT ⊕ Au+Au MB'"}}}}
       ]
      },
      {
       "width": 497, "height": 375,
       "title": {"text": "0.4", "orient": "bottom", "fontSize": 100, "fontWeight": "bold", "font": "Liberation Sans", "color": "black", "anchor": "middle", "offset": 33, "dx": 37},
       "transform": [{"filter": "datum.pt === 1 && datum.R === 0.4"}],
       "encoding": {
        "x": {"field": "x", "type": "quantitative", "scale": {"domain": [0, 0.9], "nice": false, "zero": false}, "axis": {"values": [0,0.02,0.04,0.06,0.08,0.1,0.12,0.14,0.16,0.18,0.2,0.22,0.24,0.26,0.28,0.3,0.32,0.34,0.36,0.38,0.4,0.42,0.44,0.46,0.48,0.5,0.52,0.54,0.56,0.58,0.6,0.62,0.64,0.66,0.68,0.7,0.72,0.74,0.76,0.78,0.8,0.82,0.84,0.86,0.88,0.9], "tickSize": {"condition": {"test": "abs(datum.value*10-round(datum.value*10))<0.001", "value": -12}, "value": -6}, "labelExpr": "datum.value > 0.05 && abs(datum.value*10-round(datum.value*10))<0.001 ? format(datum.value, '.1~f') : ''", "labelFlush": true, "labelFontSize": 25, "labelPadding": 14, "title": "R=0.4   |Aⱼ|", "titleAnchor": "end", "titleFontSize": 35, "titlePadding": 8}},
        "y": {"field": "v", "type": "quantitative", "scale": {"domain": [0, 0.25], "nice": false, "zero": false}, "axis": {"values": [0,0.01,0.02,0.03,0.04,0.05,0.06,0.07,0.08,0.09,0.1,0.11,0.12,0.13,0.14,0.15,0.16,0.17,0.18,0.19,0.2,0.21,0.22,0.23,0.24,0.25], "tickSize": {"condition": {"test": "abs(datum.value*20-round(datum.value*20))<0.001", "value": -12}, "value": -6}, "labels": false, "title": null}}
       },
       "layer": [
        {"transform": [{"filter": "datum.s === 'A'"}], "mark": {"type": "errorbar", "thickness": 6, "color": "black"}, "encoding": {"yError": {"field": "e"}}},
        {"transform": [{"filter": "datum.s === 'A'"}], "mark": {"type": "tick", "orient": "horizontal", "size": 33, "thickness": 6, "color": "black", "opacity": 1}},
        {"transform": [{"filter": "datum.s === 'P'"}], "mark": {"type": "errorbar", "thickness": 33, "color": "#ff0000", "opacity": 0.4}, "encoding": {"yError": {"field": "e"}}},
        {"transform": [{"filter": "datum.s === 'P'"}], "mark": {"type": "tick", "orient": "horizontal", "size": 33, "thickness": 8, "color": "#ff0000", "opacity": 1}},
        {"mark": {"type": "point", "filled": true, "size": 16, "opacity": 1}, "encoding": {
          "color": {"field": "s", "type": "nominal", "scale": {"domain": ["A","P"], "range": ["black","#ff0000"]}, "legend": {"orient": "none", "legendX": 22, "legendY": 30, "title": "STAR Preliminary", "titleOrient": "left", "titleBaseline": "middle", "titlePadding": 32, "titleLimit": 500, "titleFontSize": 22, "labelFontSize": 17.5, "labelLimit": 500, "labelExpr": "datum.value === 'A' ? 'Au+Au HT' : 'p+p HT ⊕ Au+Au MB'"}},
          "shape": {"field": "s", "type": "nominal", "scale": {"domain": ["A","P"], "range": ["circle","square"]}, "legend": {"orient": "none", "legendX": 22, "legendY": 30, "title": "STAR Preliminary", "titleOrient": "left", "titleBaseline": "middle", "titlePadding": 32, "titleLimit": 500, "titleFontSize": 22, "labelFontSize": 17.5, "labelLimit": 500, "labelExpr": "datum.value === 'A' ? 'Au+Au HT' : 'p+p HT ⊕ Au+Au MB'"}}}}
       ]
      }
     ]
    }
   ]
  }
 ],
 "config": {
  "view": {"stroke": "black", "strokeWidth": 2},
  "axis": {"domainColor": "black", "domainWidth": 2, "tickColor": "black", "tickWidth": 2, "grid": false, "labelFont": "Liberation Sans", "labelFontSize": 22, "labelColor": "black", "labelAngle": 0, "labelOverlap": false, "labelFlush": false, "titleFont": "Liberation Sans", "titleFontWeight": "normal", "titleColor": "black"},
  "legend": {"titleFont": "Liberation Sans", "titleFontSize": 22, "titleFontWeight": "bold", "titleColor": "#7a1c1c", "titleAngle": 0, "titleAnchor": "start", "titleBaseline": "top", "labelFont": "Liberation Sans", "labelFontSize": 17.5, "labelFontWeight": "bold", "labelColor": "#222222", "labelOffset": 22, "symbolSize": 40, "rowPadding": 22}
 }
}
